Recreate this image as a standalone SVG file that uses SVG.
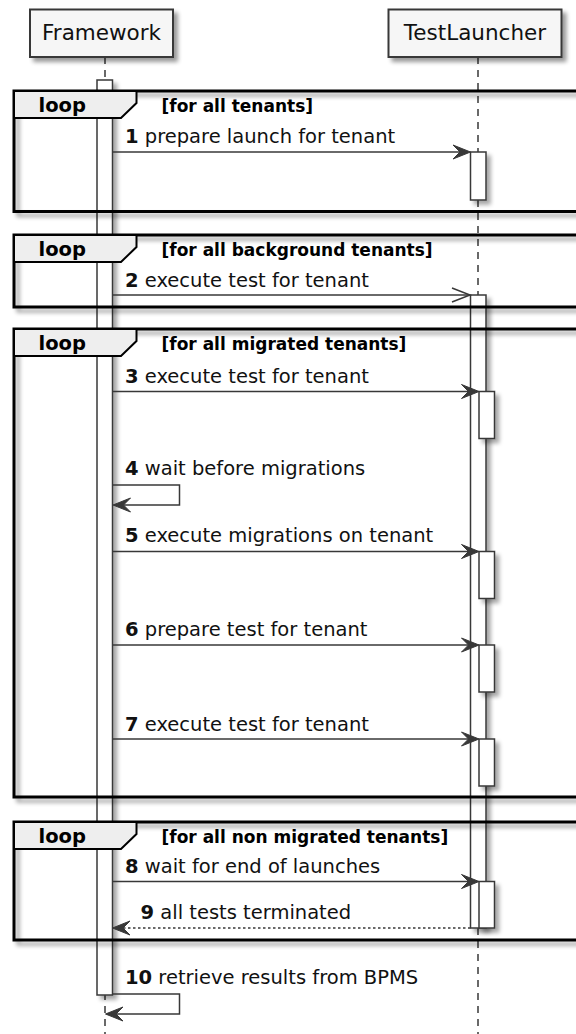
<svg xmlns="http://www.w3.org/2000/svg" width="576" height="1034" viewBox="0 0 576 1034">
<style>
.life{stroke:#383838;stroke-width:1.5;stroke-dasharray:7,6;fill:none}
.pbox{fill:#F6F6F6;stroke:#383838;stroke-width:2}
.ptxt{font-family:"DejaVu Sans",sans-serif;font-size:21.5px;fill:#111;text-anchor:middle}
.act{fill:#FFFFFF;stroke:#383838;stroke-width:1.5}
.frame{fill:none;stroke:#000;stroke-width:3}
.tab{fill:#EEEEEE;stroke:#000;stroke-width:2}
.ltxt{font-family:"DejaVu Sans",sans-serif;font-size:19.5px;font-weight:bold;fill:#000}
.gtxt{font-family:"DejaVu Sans",sans-serif;font-size:17px;font-weight:bold;fill:#000}
.msg{stroke:#383838;stroke-width:1.5;fill:none}
.ret{stroke:#383838;stroke-width:1.5;fill:none;stroke-dasharray:2.5,2.5}
.head{fill:#383838;stroke:#383838;stroke-width:1}
.mtxt{font-family:"DejaVu Sans",sans-serif;font-size:19.5px;fill:#111}
.num{font-weight:bold}
</style>
<defs>
<filter id="sh" x="-20%" y="-20%" width="150%" height="160%">
<feGaussianBlur in="SourceAlpha" stdDeviation="2"/>
<feOffset dx="4" dy="4"/>
<feComponentTransfer><feFuncA type="linear" slope="0.4"/></feComponentTransfer>
<feMerge><feMergeNode/><feMergeNode in="SourceGraphic"/></feMerge>
</filter>
<filter id="shb" x="-50%" y="-10%" width="300%" height="130%">
<feGaussianBlur in="SourceAlpha" stdDeviation="2"/>
<feOffset dx="4" dy="4"/>
<feComponentTransfer><feFuncA type="linear" slope="0.35"/></feComponentTransfer>
<feMerge><feMergeNode/><feMergeNode in="SourceGraphic"/></feMerge>
</filter>
</defs>

<g id="lifelines">
<line class="life" x1="105" y1="57" x2="105" y2="1034"/>
<line class="life" x1="478" y1="57" x2="478" y2="1034"/>
</g>

<g id="p-framework">
<rect class="pbox" x="30" y="9.5" width="143" height="47.5" filter="url(#sh)"/>
<text class="ptxt" x="101.5" y="40">Framework</text>
</g>
<g id="p-testlauncher">
<rect class="pbox" x="388.5" y="9.5" width="173" height="47.5" filter="url(#sh)"/>
<text class="ptxt" x="475" y="40">TestLauncher</text>
</g>

<g id="activations">
<rect class="act" x="97" y="80" width="15.5" height="915" filter="url(#shb)"/>
<rect class="act" x="470.5" y="152" width="15.5" height="48" filter="url(#shb)"/>
<rect class="act" x="470.5" y="295" width="15.5" height="633" filter="url(#shb)"/>
<rect class="act" x="479" y="391.5" width="15.5" height="47" filter="url(#shb)"/>
<rect class="act" x="479" y="551.5" width="15.5" height="47" filter="url(#shb)"/>
<rect class="act" x="479" y="645" width="15.5" height="47" filter="url(#shb)"/>
<rect class="act" x="479" y="739" width="15.5" height="47" filter="url(#shb)"/>
<rect class="act" x="479" y="881.5" width="15.5" height="46.5" filter="url(#shb)"/>
</g>

<g id="loop1">
<rect class="frame" x="14" y="91" width="600" height="120.5" filter="url(#sh)"/>
<path class="tab" d="M14,91 H136.5 V103 L121,118 H14 Z"/>
<text class="ltxt" x="38.5" y="112">loop</text>
<text class="gtxt" x="161.5" y="111.5">[for all tenants]</text>
</g>
<g id="loop2">
<rect class="frame" x="14" y="235" width="600" height="72" filter="url(#sh)"/>
<path class="tab" d="M14,235 H136.5 V247 L121,262 H14 Z"/>
<text class="ltxt" x="38.5" y="256">loop</text>
<text class="gtxt" x="161.5" y="255.5">[for all background tenants]</text>
</g>
<g id="loop3">
<rect class="frame" x="14" y="329" width="600" height="468" filter="url(#sh)"/>
<path class="tab" d="M14,329 H136.5 V341 L121,356 H14 Z"/>
<text class="ltxt" x="38.5" y="350">loop</text>
<text class="gtxt" x="161.5" y="349.5">[for all migrated tenants]</text>
</g>
<g id="loop4">
<rect class="frame" x="14" y="822" width="600" height="118" filter="url(#sh)"/>
<path class="tab" d="M14,822 H136.5 V834 L121,849 H14 Z"/>
<text class="ltxt" x="38.5" y="843">loop</text>
<text class="gtxt" x="161.5" y="842.5">[for all non migrated tenants]</text>
</g>

<g id="connectors">
<line class="msg" x1="112.5" y1="152" x2="468" y2="152"/>
<polygon class="head" points="470.5,152 453,145 460,152 453,159"/>

<line class="msg" x1="112.5" y1="295" x2="470" y2="295"/>
<polyline class="msg" points="452,288 470,295 452,302"/>

<line class="msg" x1="112.5" y1="391.5" x2="477" y2="391.5"/>
<polygon class="head" points="479,391.5 461.5,384.5 468.5,391.5 461.5,398.5"/>

<polyline class="msg" points="112.5,485 179.5,485 179.5,505 114,505"/>
<polygon class="head" points="113,505 130.5,498 123.5,505 130.5,512"/>

<line class="msg" x1="112.5" y1="551.5" x2="477" y2="551.5"/>
<polygon class="head" points="479,551.5 461.5,544.5 468.5,551.5 461.5,558.5"/>

<line class="msg" x1="112.5" y1="645" x2="477" y2="645"/>
<polygon class="head" points="479,645 461.5,638 468.5,645 461.5,652"/>

<line class="msg" x1="112.5" y1="739" x2="477" y2="739"/>
<polygon class="head" points="479,739 461.5,732 468.5,739 461.5,746"/>

<line class="msg" x1="112.5" y1="881.5" x2="477" y2="881.5"/>
<polygon class="head" points="479,881.5 461.5,874.5 468.5,881.5 461.5,888.5"/>

<line class="ret" x1="470.5" y1="928" x2="115" y2="928"/>
<polygon class="head" points="112.5,928 130,921 123,928 130,935"/>

<polyline class="msg" points="112.5,994 179.5,994 179.5,1014 107,1014"/>
<polygon class="head" points="105.5,1014 123,1007 116,1014 123,1021"/>
</g>

<g id="labels">
<text class="mtxt" x="125" y="143"><tspan class="num">1</tspan> prepare launch for tenant</text>
<text class="mtxt" x="125" y="286.5"><tspan class="num">2</tspan> execute test for tenant</text>
<text class="mtxt" x="125" y="382.5"><tspan class="num">3</tspan> execute test for tenant</text>
<text class="mtxt" x="125" y="475"><tspan class="num">4</tspan> wait before migrations</text>
<text class="mtxt" x="125" y="542"><tspan class="num">5</tspan> execute migrations on tenant</text>
<text class="mtxt" x="125" y="635.5"><tspan class="num">6</tspan> prepare test for tenant</text>
<text class="mtxt" x="125" y="730.5"><tspan class="num">7</tspan> execute test for tenant</text>
<text class="mtxt" x="125" y="873"><tspan class="num">8</tspan> wait for end of launches</text>
<text class="mtxt" x="140.5" y="919"><tspan class="num">9</tspan> all tests terminated</text>
<text class="mtxt" x="125" y="984"><tspan class="num">10</tspan> retrieve results from BPMS</text>
</g>
</svg>
